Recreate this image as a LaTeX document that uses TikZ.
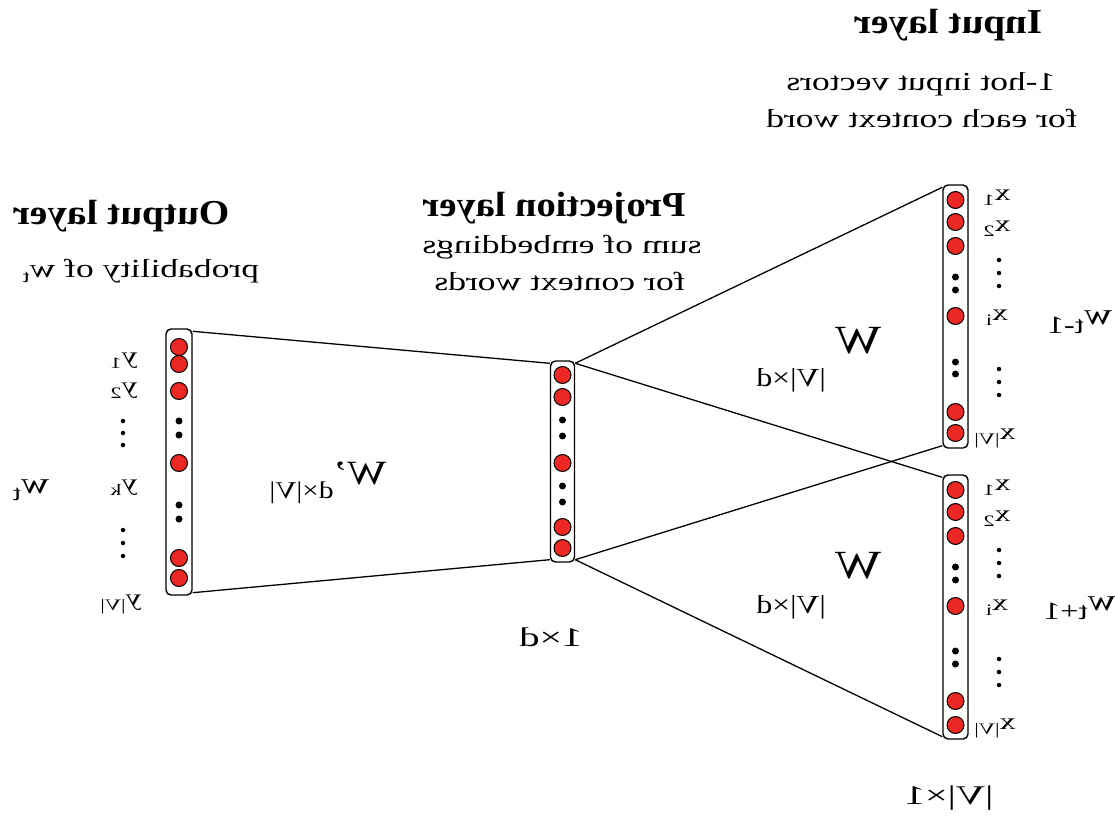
\documentclass[tikz,border=0pt]{standalone}
\usepackage{fontspec}
\setmainfont{Liberation Serif}
\usepackage{graphicx}
\definecolor{nred}{RGB}{236,40,36}
\newcommand\mirr[2]{\scalebox{-#1}[1]{#2}}
\newcommand\fs[1]{\fontsize{#1}{#1}\selectfont}
\newcommand\sbs[2]{\raisebox{-#1}{#2}}
\begin{document}
\begin{tikzpicture}[x=1pt,y=-1pt,
 unit/.style={circle,draw=black,fill=nred,line width=1pt,minimum size=17pt,inner sep=0pt},
 bdot/.style={circle,fill=black,minimum size=7pt,inner sep=0pt},
 sdot/.style={circle,fill=black,minimum size=4.5pt,inner sep=0pt},
 layerbox/.style={draw=black,rounded corners=5pt,line width=1.4pt,inner sep=0pt},
 conn/.style={line width=1.3pt},
 txt/.style={inner sep=0pt,anchor=center}
]
\useasboundingbox (0,0) rectangle (1115,818);

% layer boxes
\node[layerbox,minimum width=26pt,minimum height=266pt] (outbox) at (179,462) {};
\node[layerbox,minimum width=24pt,minimum height=201pt] (proj) at (562.5,461.5) {};
\node[layerbox,minimum width=25pt,minimum height=263pt] (in1) at (955.5,316.5) {};
\node[layerbox,minimum width=25pt,minimum height=264pt] (in2) at (955.5,607) {};

% units
\foreach \yy [count=\i] in {347,364,391,463,558,578} \node[unit] (o\i) at (179,\yy) {};
\foreach \yy [count=\i] in {421,435,505,519} \node[bdot] (od\i) at (179,\yy) {};
\foreach \yy [count=\i] in {375,397,463,527,548} \node[unit] (p\i) at (562.5,\yy) {};
\foreach \yy [count=\i] in {420,436,486,502} \node[bdot] (pd\i) at (562.5,\yy) {};
\foreach \yy [count=\i] in {200,222,246,316,412,433} \node[unit] (a\i) at (955.5,\yy) {};
\foreach \yy [count=\i] in {277,290,362,374} \node[bdot] (ad\i) at (955.5,\yy) {};
\foreach \yy [count=\i] in {490,512,536,606,701,725} \node[unit] (b\i) at (955.5,\yy) {};
\foreach \yy [count=\i] in {567,580,651,664} \node[bdot] (bd\i) at (955.5,\yy) {};

% vertical ellipsis beside labels
\foreach \yy [count=\i] in {421,433,445,530,543,556} \node[sdot] (ov\i) at (123,\yy) {};
\foreach \yy [count=\i] in {260,273,286,369,382,395} \node[sdot] (av\i) at (999,\yy) {};
\foreach \yy [count=\i] in {550,563,576,659,672,685} \node[sdot] (bv\i) at (999,\yy) {};

% connectors
\draw[conn] ([yshift=-3pt]outbox.north east) -- ([yshift=-3pt]proj.north west);
\draw[conn] ([yshift=3pt]outbox.south east) -- ([yshift=3pt]proj.south west);
\draw[conn] ([yshift=-3pt]proj.north east) -- ([yshift=-3pt]in1.north west);
\draw[conn] ([yshift=-3pt]proj.north east) -- ([yshift=-3pt]in2.north west);
\draw[conn] ([yshift=3pt]proj.south east) -- ([yshift=3pt]in1.south west);
\draw[conn] ([yshift=3pt]proj.south east) -- ([yshift=3pt]in2.south west);

% output labels
\node[txt] (ly1) at (124,361) {\mirr{1.4}{\fs{23}y\sbs{5pt}{\fs{16}1}}};
\node[txt] (ly2) at (124,391) {\mirr{1.4}{\fs{23}y\sbs{5pt}{\fs{16}2}}};
\node[txt] (lyk) at (124,488) {\mirr{1.4}{\fs{23}y\sbs{5pt}{\fs{16}k}}};
\node[txt] (lyv) at (121,604) {\mirr{1.4}{\fs{23}y\sbs{5pt}{\fs{16}|V|}}};
\node[txt] (lwt) at (31,490) {\mirr{1.3}{\fs{30}w\sbs{7pt}{\fs{22}t}}};

% input labels
\foreach \base/\nm in {0/a,290/b}{
 \node[txt] (\nm x1) at (997,198+\base) {\mirr{1.4}{\fs{23}x\sbs{5pt}{\fs{16}1}}};
 \node[txt] (\nm x2) at (997,229+\base) {\mirr{1.4}{\fs{23}x\sbs{5pt}{\fs{16}2}}};
 \node[txt] (\nm xi) at (997,318+\base) {\mirr{1.4}{\fs{23}x\sbs{5pt}{\fs{16}i}}};
 \node[txt] (\nm xv) at (995,438+\base) {\mirr{1.4}{\fs{23}x\sbs{5pt}{\fs{16}|V|}}};
}
\node[txt] (lwm) at (1080,322) {\mirr{1.3}{\fs{30}w\sbs{9pt}{\fs{25}t-1}}};
\node[txt] (lwp) at (1080,608) {\mirr{1.3}{\fs{30}w\sbs{9pt}{\fs{25}t+1}}};

% weight labels
\node[txt] (wup) at (819,360) {\mirr{1.22}{\fs{40}W\hspace{8pt}\sbs{33pt}{\fs{26}|V|×d}}};
\node[txt] (wdn) at (819,586) {\mirr{1.22}{\fs{40}W\hspace{8pt}\sbs{35pt}{\fs{26}|V|×d}}};
\node[txt] (wout) at (328,483) {\mirr{1.22}{\fs{34}W’\sbs{14pt}{\fs{24}d×|V|}}};

% titles
\node[txt] (tin) at (948,25) {\mirr{1.12}{\fs{35}\bfseries Input layer}};
\node[txt] (tin2) at (921,84) {\mirr{1.37}{\fs{26}1-hot input vectors}};
\node[txt] (tin3) at (922,118) {\mirr{1.37}{\fs{26}for each context word}};
\node[txt] (tout) at (121,216) {\mirr{1.12}{\fs{35}\bfseries Output layer}};
\node[txt] (tout2) at (141,271) {\mirr{1.37}{\fs{26}probability of w\sbs{5pt}{\fs{18}t}}};
\node[txt] (tproj) at (554,208) {\mirr{1.1}{\fs{35}\bfseries Projection layer}};
\node[txt] (tproj2) at (562,247) {\mirr{1.37}{\fs{26}sum of embeddings}};
\node[txt] (tproj3) at (560,281) {\mirr{1.37}{\fs{26}for context words}};

% dimension labels
\node[txt] (dproj) at (551,637) {\mirr{1.5}{\fs{27}1×d}};
\node[txt] (dinp) at (949,798) {\mirr{1.5}{\fs{27}|V|×1}};
\end{tikzpicture}
\end{document}
